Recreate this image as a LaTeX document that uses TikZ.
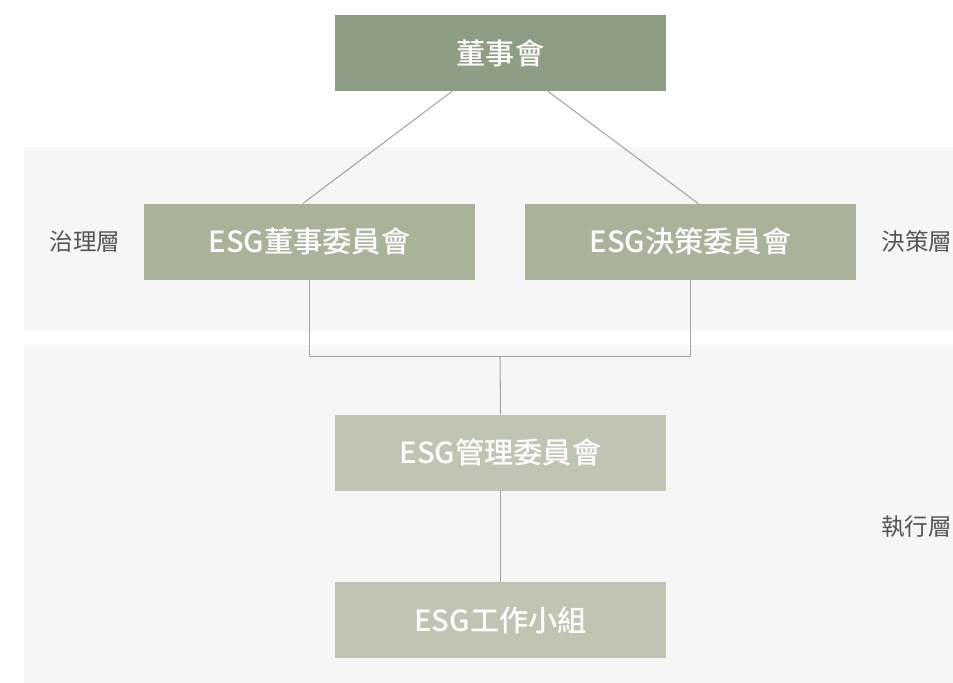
\documentclass[tikz,border=0pt]{standalone}
\usepackage{fontspec}
\usepackage{tikz}
\usepackage{xcolor}
\usetikzlibrary{positioning}
\usetikzlibrary{calc}
\setmainfont{Noto Sans CJK TC}[BoldFont={Noto Sans CJK TC Medium}]
\definecolor{boardgreen}{RGB}{142,158,132}
\definecolor{midgreen}{RGB}{168,179,154}
\definecolor{palegreen}{RGB}{191,197,179}
\definecolor{bandgray}{RGB}{245,247,246}
\definecolor{linkgray}{RGB}{160,168,148}
\definecolor{labelgray}{RGB}{85,85,85}

\begin{document}
\begin{tikzpicture}
	\tikzstyle{unit} = [minimum width=6.62cm, minimum height=1.52cm, inner sep=0pt, text=white, font=\fontsize{16.6}{18}\selectfont\bfseries]
	\tikzstyle{layer} = [inner sep=0pt, text=labelgray, font=\fontsize{13.4}{15}\selectfont]
	\tikzstyle{link} = [draw=linkgray, line width=0.6pt]

	\useasboundingbox (0,0) rectangle (19.06,-13.66);
	% layer bands
	\fill[bandgray] (0.48,-2.94) rectangle (19.06,-6.62);
	\fill[bandgray] (0.48,-6.90) rectangle (19.06,-13.66);

	\node (board) [unit, fill=boardgreen] at (10.01,-1.06) {董事會};
	\node (gov) [unit, fill=midgreen, below=2.24cm of board, xshift=-3.82cm] {ESG董事委員會};
	\node (dec) [unit, fill=midgreen, below=2.24cm of board, xshift=3.80cm] {ESG決策委員會};
	\node (mgmt) [unit, fill=palegreen, below=6.46cm of board] {ESG管理委員會};
	\node (team) [unit, fill=palegreen, below=1.82cm of mgmt] {ESG工作小組};

	\node (govlabel) [layer, left=0.46cm of gov] {治理層};
	\node (declabel) [layer, right=0.5cm of dec] {決策層};
	\node (execlabel) [layer] at (18.33,-10.54) {執行層};

	\coordinate (join) at ($(gov.south)!0.5!(dec.south)+(0,-1.52)$);

	\draw [link] ($(board.south)+(-0.97,0)$) -- ($(gov.north)+(-0.13,0)$);
	\draw [link] ($(board.south)+(0.95,0)$) -- ($(dec.north)+(0.15,0)$);
	\draw [link] (gov.south) |- (join) -| (dec.south);
	\draw [link] (join) -- (mgmt.north);
	\draw [link] (mgmt) -- (team);
\end{tikzpicture}
\end{document}
